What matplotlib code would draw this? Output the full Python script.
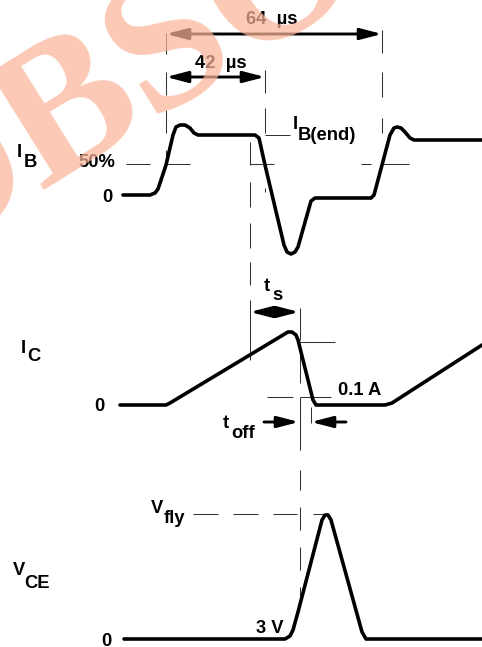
import matplotlib
matplotlib.use("Agg")
import matplotlib.pyplot as plt

W, H = 482, 647

ib_x = [123,150,155,158,166,173,176,180,185,190,194,198,255,259,265,284,287,291,295,298,311,315,371,374,382,390,394,397,401,405,410,414,482]
ib_y = [195,195,193,189,165,135,127,125,125,128,133,135,135,138,165,245,252,254,252,247,201,198,198,195,165,135,128,127,128,132,138,140,140]
ic_x = [120,166,170,283,288,292,296,298,313,316,385,392,482]
ic_y = [405,405,403,335,332,332,335,340,400,405,405,403,345]
vce_x = [124,285,290,293,298,322,325,328,331,362,366,482]
vce_y = [639,639,636,630,612,520,515,515,520,632,639,639]

# guide segments: (x0, y0, x1, y1)
guides = [
    (166,33,166,54),(166,72,166,95),(166,110,166,133),(166,150,166,165),
    (265,70,265,93),(265,108,265,133),(265,188,265,192),
    (382,30,382,53),(382,72,382,97),(382,118,382,133),
    (250,142,250,165),(250,182,250,207),(250,223,250,248),(250,262,250,285),(250,300,250,360),
    (299.5,308,299.5,340),(299.5,355,299.5,383),(299.5,397,299.5,450),
    (299.5,470,299.5,490),(299.5,507,299.5,530),(299.5,547,299.5,570),(299.5,587,299.5,598),
    (126,164,150,164),(166,164,190,164),(250,164,274,164),(361,164,371,164),(382,164,409,164),
    (265,135,290,135),(298,342,335,342),(267,397,293,397),(300,397,331,397),
    (193,514,218,514),(233,514,258,514),(273,514,297,514),(313,514,328,514),
    (311,407,311,423),
]
# double and single arrows: (x0, y, x1, style)
arrows = [(166,34,382,"<|-|>"),(166,77,265,"<|-|>"),(250,312,299,"<|-|>"),(264,422,299,"-|>"),(346,422,311,"-|>")]
# labels: (x, baseline y, text)
labels = [
    (246,24,"64  µs"),(195,68,"42  µs"),(293,129,"I"),(298,140,"B(end)"),
    (78,167,"50%"),(102,202,"0"),(17,157,"I"),(24,167,"B"),
    (264,291,"t"),(272,300,"s"),(21,353,"I"),(27,361,"C"),(94,411,"0"),(338,395,"0.1 A"),
    (223,428,"t"),(231,438,"off"),(151,513,"V"),(164,523,"fly"),
    (13,575,"V"),(24,588,"CE"),(256,633,"3 V"),(101,646,"0"),
]

fig = plt.figure(figsize=(W/100, H/100), dpi=100)
ax = fig.add_axes([0, 0, 1, 1])
ax.set_xlim(0, W)
ax.set_ylim(H, 0)
ax.axis("off")

for x0, y0, x1, y1 in guides:
    ax.plot([x0, x1], [y0, y1], color="#333333", lw=0.75, solid_capstyle="butt", zorder=2)

for xs, ys in [(ib_x, ib_y), (ic_x, ic_y), (vce_x, vce_y)]:
    ax.plot(xs, ys, color="black", lw=2.6, solid_joinstyle="round", solid_capstyle="round", zorder=3)

for x0, y, x1, st in arrows:
    ax.annotate("", xy=(x1, y), xytext=(x0, y), zorder=3,
                arrowprops=dict(arrowstyle=f"{st},head_length=1.0,head_width=0.26", color="black",
                                lw=2.1, shrinkA=0, shrinkB=0, mutation_scale=13))

for x, y, s in labels:
    ax.text(x, y, s, family="Liberation Sans", weight="bold", fontsize=13.2,
            ha="left", va="baseline", color="black", zorder=4)

ax.text(337, -54, "OBSOLETE", family="Liberation Serif", weight="bold", fontsize=140,
        rotation=32, rotation_mode="anchor", ha="center", va="center",
        color="#FAB499", alpha=0.72, zorder=5, clip_on=True)

fig.savefig("out.png", dpi=100)
